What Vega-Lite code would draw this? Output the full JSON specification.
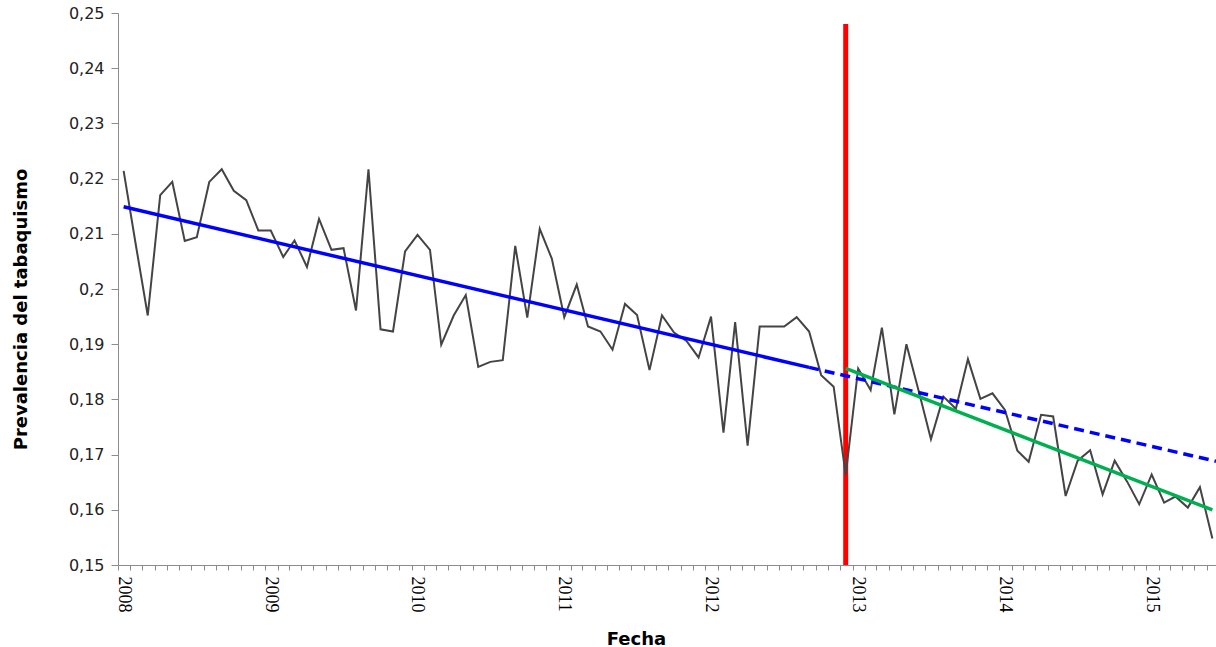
{
  "$schema": "https://vega.github.io/schema/vega-lite/v6.json",
  "width": 1098,
  "height": 552,
  "autosize": "none",
  "padding": {"left": 118, "top": 13, "right": 0, "bottom": 82},
  "background": "white",
  "config": {"view": {"stroke": null}},
  "datasets": {
    "obs": [
      {"date": "2008-01-15", "value": 0.2214},
      {"date": "2008-02-15", "value": 0.2077},
      {"date": "2008-03-15", "value": 0.1952},
      {"date": "2008-04-15", "value": 0.2170},
      {"date": "2008-05-15", "value": 0.2194},
      {"date": "2008-06-15", "value": 0.2087},
      {"date": "2008-07-15", "value": 0.2094},
      {"date": "2008-08-15", "value": 0.2194},
      {"date": "2008-09-15", "value": 0.2217},
      {"date": "2008-10-15", "value": 0.2178},
      {"date": "2008-11-15", "value": 0.2161},
      {"date": "2008-12-15", "value": 0.2106},
      {"date": "2009-01-15", "value": 0.2106},
      {"date": "2009-02-15", "value": 0.2058},
      {"date": "2009-03-15", "value": 0.2088},
      {"date": "2009-04-15", "value": 0.2040},
      {"date": "2009-05-15", "value": 0.2127},
      {"date": "2009-06-15", "value": 0.2071},
      {"date": "2009-07-15", "value": 0.2074},
      {"date": "2009-08-15", "value": 0.1961},
      {"date": "2009-09-15", "value": 0.2217},
      {"date": "2009-10-15", "value": 0.1927},
      {"date": "2009-11-15", "value": 0.1923},
      {"date": "2009-12-15", "value": 0.2068},
      {"date": "2010-01-15", "value": 0.2098},
      {"date": "2010-02-15", "value": 0.2071},
      {"date": "2010-03-15", "value": 0.1899},
      {"date": "2010-04-15", "value": 0.1952},
      {"date": "2010-05-15", "value": 0.1989},
      {"date": "2010-06-15", "value": 0.1859},
      {"date": "2010-07-15", "value": 0.1868},
      {"date": "2010-08-15", "value": 0.1871},
      {"date": "2010-09-15", "value": 0.2078},
      {"date": "2010-10-15", "value": 0.1948},
      {"date": "2010-11-15", "value": 0.2109},
      {"date": "2010-12-15", "value": 0.2055},
      {"date": "2011-01-15", "value": 0.1949},
      {"date": "2011-02-15", "value": 0.2008},
      {"date": "2011-03-15", "value": 0.1932},
      {"date": "2011-04-15", "value": 0.1923},
      {"date": "2011-05-15", "value": 0.1890},
      {"date": "2011-06-15", "value": 0.1973},
      {"date": "2011-07-15", "value": 0.1953},
      {"date": "2011-08-15", "value": 0.1853},
      {"date": "2011-09-15", "value": 0.1952},
      {"date": "2011-10-15", "value": 0.1921},
      {"date": "2011-11-15", "value": 0.1906},
      {"date": "2011-12-15", "value": 0.1876},
      {"date": "2012-01-15", "value": 0.1950},
      {"date": "2012-02-15", "value": 0.1740},
      {"date": "2012-03-15", "value": 0.1940},
      {"date": "2012-04-15", "value": 0.1716},
      {"date": "2012-05-15", "value": 0.1932},
      {"date": "2012-06-15", "value": 0.1932},
      {"date": "2012-07-15", "value": 0.1932},
      {"date": "2012-08-15", "value": 0.1949},
      {"date": "2012-09-15", "value": 0.1923},
      {"date": "2012-10-15", "value": 0.1844},
      {"date": "2012-11-15", "value": 0.1823},
      {"date": "2012-12-15", "value": 0.1663},
      {"date": "2013-01-15", "value": 0.1856},
      {"date": "2013-02-15", "value": 0.1817},
      {"date": "2013-03-15", "value": 0.1930},
      {"date": "2013-04-15", "value": 0.1773},
      {"date": "2013-05-15", "value": 0.1900},
      {"date": "2013-06-15", "value": 0.1814},
      {"date": "2013-07-15", "value": 0.1728},
      {"date": "2013-08-15", "value": 0.1805},
      {"date": "2013-09-15", "value": 0.1783},
      {"date": "2013-10-15", "value": 0.1873},
      {"date": "2013-11-15", "value": 0.1801},
      {"date": "2013-12-15", "value": 0.1811},
      {"date": "2014-01-15", "value": 0.1781},
      {"date": "2014-02-15", "value": 0.1707},
      {"date": "2014-03-15", "value": 0.1687},
      {"date": "2014-04-15", "value": 0.1772},
      {"date": "2014-05-15", "value": 0.1769},
      {"date": "2014-06-15", "value": 0.1625},
      {"date": "2014-07-15", "value": 0.1689},
      {"date": "2014-08-15", "value": 0.1708},
      {"date": "2014-09-15", "value": 0.1628},
      {"date": "2014-10-15", "value": 0.1689},
      {"date": "2014-11-15", "value": 0.1651},
      {"date": "2014-12-15", "value": 0.1610},
      {"date": "2015-01-15", "value": 0.1664},
      {"date": "2015-02-15", "value": 0.1613},
      {"date": "2015-03-15", "value": 0.1624},
      {"date": "2015-04-15", "value": 0.1604},
      {"date": "2015-05-15", "value": 0.1641},
      {"date": "2015-06-15", "value": 0.1548}
    ],
    "pre": [
      {"date": "2008-01-15", "value": 0.2149},
      {"date": "2012-09-15", "value": 0.1858}
    ],
    "proj": [
      {"date": "2012-09-15", "value": 0.1858},
      {"date": "2015-06-24", "value": 0.1688}
    ],
    "post": [
      {"date": "2012-12-15", "value": 0.1856},
      {"date": "2015-06-15", "value": 0.1600}
    ],
    "intervention": [
      {"date": "2012-12-15", "value": 0.15, "value2": 0.248}
    ]
  },
  "encoding": {
    "x": {
      "field": "date",
      "type": "temporal",
      "scale": {
        "type": "utc",
        "domain": [
          {"year": 2008, "month": 1, "date": 1, "utc": true},
          {"year": 2015, "month": 6, "date": 24, "utc": true}
        ],
        "nice": false
      },
      "axis": {
        "title": "Fecha",
        "titleFont": "DejaVu Sans",
        "titleFontSize": 18,
        "titleFontWeight": "bold",
        "titleColor": "#000000",
        "titleX": 518,
        "titleY": 79,
        "titleAlign": "center",
        "titleBaseline": "alphabetic",
        "tickCount": {"interval": "month", "step": 1},
        "labelExpr": "utcmonth(datum.value) === 0 ? utcFormat(datum.value, '%Y') : ''",
        "labelFont": "Liberation Serif, Times New Roman, serif",
        "labelFontSize": 18,
        "labelColor": "#000000",
        "labelAngle": 90,
        "labelAlign": "left",
        "labelBaseline": "alphabetic",
        "labelPadding": 6,
        "labelOverlap": false,
        "labelBound": false,
        "labelFlush": false,
        "tickSize": 5,
        "tickColor": "#8c8c8c",
        "domainColor": "#8c8c8c",
        "grid": false
      }
    },
    "y": {
      "field": "value",
      "type": "quantitative",
      "scale": {"domain": [0.15, 0.25], "nice": false, "zero": false},
      "axis": {
        "title": "Prevalencia del tabaquismo",
        "titleFont": "DejaVu Sans",
        "titleFontSize": 18,
        "titleFontWeight": "bold",
        "titleColor": "#000000",
        "titleAngle": 270,
        "titleX": -92,
        "titleY": 296,
        "titleAlign": "center",
        "titleBaseline": "alphabetic",
        "values": [0.15, 0.16, 0.17, 0.18, 0.19, 0.2, 0.21, 0.22, 0.23, 0.24, 0.25],
        "labelExpr": "replace(format(datum.value, '.2~f'), '.', ',')",
        "labelFont": "DejaVu Sans",
        "labelFontSize": 16,
        "labelColor": "#222222",
        "labelPadding": 7,
        "tickSize": 7,
        "tickColor": "#8c8c8c",
        "domainColor": "#8c8c8c",
        "grid": false
      }
    }
  },
  "layer": [
    {
      "data": {"name": "intervention"},
      "mark": {"type": "rule", "color": "#ff0000", "strokeWidth": 5},
      "encoding": {"y2": {"field": "value2"}}
    },
    {
      "data": {"name": "obs"},
      "mark": {"type": "line", "color": "#444444", "strokeWidth": 2},
      "encoding": {}
    },
    {
      "data": {"name": "pre"},
      "mark": {"type": "line", "color": "#0000ff", "strokeWidth": 3.5},
      "encoding": {}
    },
    {
      "data": {"name": "proj"},
      "mark": {"type": "line", "color": "#0000ff", "strokeWidth": 3.5, "strokeDash": [10, 6]},
      "encoding": {}
    },
    {
      "data": {"name": "post"},
      "mark": {"type": "line", "color": "#00b050", "strokeWidth": 3.5},
      "encoding": {}
    }
  ]
}
